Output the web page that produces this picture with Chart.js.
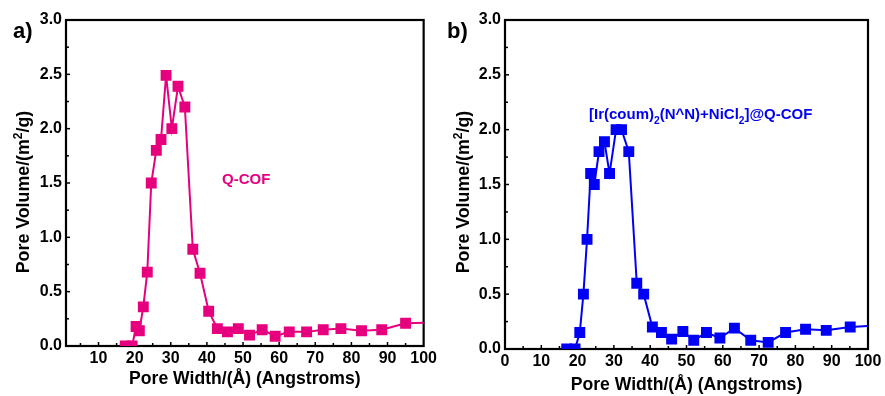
<!DOCTYPE html>
<html>
<head>
<meta charset="utf-8">
<script src="https://cdn.jsdelivr.net/npm/chart.js@4.4.1/dist/chart.umd.min.js"></script>
<style>
  body { margin: 0; background: #fff; }
  #wrap { position: relative; width: 885px; height: 396px; }
  canvas { position: absolute; top: 0; }
</style>
</head>
<body>
<div id="wrap">
  <canvas id="chartA" width="440" height="396" style="left:0"></canvas>
  <canvas id="chartB" width="445" height="396" style="left:440px"></canvas>
</div>
<script>
// panel a) Q-COF
var widthA  = [17.4, 19.3, 20.4, 21.3, 22.4, 23.5, 24.6, 26.0, 27.3, 28.7, 30.3, 32.0, 33.9, 36.1, 38.1,
               40.5, 42.9, 45.7, 48.7, 51.8, 55.3, 58.9, 62.8, 67.6, 72.2, 77.1, 82.8, 88.4, 95.0, 102];
var volumeA = [0, 0, 0.18, 0.14, 0.36, 0.68, 1.50, 1.80, 1.90, 2.49, 2.00, 2.39, 2.20, 0.89, 0.67,
               0.32, 0.16, 0.13, 0.16, 0.10, 0.15, 0.09, 0.13, 0.13, 0.15, 0.16, 0.14, 0.15, 0.21, 0.215];

// panel b) [Ir(coum)2(N^N)+NiCl2]@Q-COF
var widthB  = [17.0, 19.3, 20.6, 21.6, 22.6, 23.6, 24.6, 25.9, 27.4, 28.8, 30.6, 32.1, 34.1, 36.3, 38.2,
               40.6, 43.1, 45.9, 49.0, 52.0, 55.5, 59.2, 63.2, 67.7, 72.5, 77.3, 82.8, 88.5, 95.1, 102];
var volumeB = [0, 0, 0.15, 0.50, 1.00, 1.60, 1.50, 1.80, 1.89, 1.60, 2.00, 2.00, 1.80, 0.60, 0.50,
               0.20, 0.15, 0.09, 0.16, 0.08, 0.15, 0.10, 0.19, 0.08, 0.06, 0.15, 0.18, 0.17, 0.20, 0.215];

// tick labels
var xTicksA = [10, 20, 30, 40, 50, 60, 70, 80, 90, 100];
var xTicksB = [0, 10, 20, 30, 40, 50, 60, 70, 80, 90, 100];
var yTicks  = [0, 0.5, 1.0, 1.5, 2.0, 2.5, 3.0];

var PINK = '#e6007e';
var BLUE = '#0000f5';
var FONT = "'Liberation Sans', Arial, sans-serif";

Chart.defaults.font.family = FONT;
Chart.defaults.font.weight = 'bold';
Chart.defaults.color = '#000';

function toPoints(xs, ys) {
  return xs.map(function (x, i) { return { x: x, y: ys[i] }; });
}

// draw text made of pieces, some raised / lowered
function richText(ctx, parts, size, x, y, align) {
  var total = 0;
  parts.forEach(function (p) {
    ctx.font = 'bold ' + (p.s ? size * 0.68 : size) + 'px ' + FONT;
    p.w = ctx.measureText(p.t).width;
    total += p.w;
  });
  var cx = align === 'center' ? x - total / 2 : x;
  parts.forEach(function (p) {
    ctx.font = 'bold ' + (p.s ? size * 0.68 : size) + 'px ' + FONT;
    ctx.fillText(p.t, cx, y + (p.s || 0) * size);
    cx += p.w;
  });
}

// frame + inward ticks (before the data so the squares sit on the axis)
var framePlugin = {
  id: 'frame',
  beforeDatasetsDraw: function (chart) {
    var ctx = chart.ctx, a = chart.chartArea;
    var xs = chart.scales.x, ys = chart.scales.y;
    ctx.save();
    ctx.strokeStyle = '#000';
    ctx.lineWidth = 1.5;
    var v, px;
    for (v = 5; v < 100; v += 5) {
      if (v < xs.min) continue;
      px = xs.getPixelForValue(v);
      ctx.beginPath();
      ctx.moveTo(px, a.bottom);
      ctx.lineTo(px, a.bottom - (v % 10 === 0 ? 4 : 3));
      ctx.stroke();
    }
    for (v = 0.25; v < 3; v += 0.25) {
      px = ys.getPixelForValue(v);
      ctx.beginPath();
      ctx.moveTo(a.left, px);
      ctx.lineTo(a.left + (Math.round(v * 4) % 2 === 0 ? 4 : 3), px);
      ctx.stroke();
    }
    ctx.lineWidth = 2.2;
    ctx.strokeRect(a.left, a.top, a.right - a.left, a.bottom - a.top);
    ctx.restore();
  },
  afterDraw: function (chart, args, opts) {
    var ctx = chart.ctx;
    ctx.save();
    ctx.textBaseline = 'alphabetic';
    // panel letter
    ctx.fillStyle = '#000';
    ctx.font = 'bold 22px ' + FONT;
    ctx.textAlign = 'left';
    ctx.fillText(opts.letter, opts.letterX, 38);
    // y title with superscript
    ctx.translate(29, 192);
    ctx.rotate(-Math.PI / 2);
    richText(ctx, [{ t: 'Pore Volume/(m' }, { t: '2', s: -0.42 }, { t: '/g)' }], 17.8, 0, 0, 'center');
    ctx.restore();
    // sample label
    ctx.save();
    ctx.fillStyle = opts.color;
    richText(ctx, opts.label, 15, opts.labelX, opts.labelY, 'left');
    ctx.restore();
  }
};

function makeChart(id, xs, ys, color, xTicks, xMin, size, frameOpts) {
  return new Chart(id, {
    type: 'scatter',
    data: {
      datasets: [{
        data: toPoints(xs, ys),
        showLine: true,
        borderColor: color,
        backgroundColor: color,
        borderWidth: 2,
        pointStyle: 'rect',
        pointRadius: 6.3,
        pointHoverRadius: 6.3,
        tension: 0
      }]
    },
    plugins: [framePlugin],
    options: {
      responsive: false,
      animation: false,
      devicePixelRatio: 1,
      layout: { padding: { left: 0, right: size.right, top: 20, bottom: 0 } },
      plugins: {
        legend: { display: false },
        tooltip: { enabled: false },
        frame: frameOpts
      },
      scales: {
        x: {
          type: 'linear',
          min: xMin,
          max: 100,
          grid: { display: false, drawTicks: false },
          border: { display: false },
          afterBuildTicks: function (scale) {
            scale.ticks = xTicks.map(function (v) { return { value: v }; });
          },
          afterFit: function (scale) { scale.height = size.xh; },
          ticks: { autoSkip: false, maxRotation: 0, padding: 3, font: { size: 16, weight: 'bold' } },
          title: {
            display: true,
            text: 'Pore Width/(\u00c5) (Angstroms)',
            font: { size: 17.6, weight: 'bold' },
            padding: { top: 0, bottom: size.tb }
          }
        },
        y: {
          type: 'linear',
          min: 0,
          max: 3,
          grid: { display: false, drawTicks: false },
          border: { display: false },
          afterBuildTicks: function (scale) {
            scale.ticks = yTicks.map(function (v) { return { value: v }; });
          },
          afterFit: function (scale) { scale.width = size.yw; },
          ticks: {
            padding: 4,
            font: { size: 16, weight: 'bold' },
            callback: function (v) { return v.toFixed(1); }
          }
        }
      }
    }
  });
}

makeChart('chartA', widthA, volumeA, PINK, xTicksA, 1,
  { right: 14, xh: 50, yw: 66, tb: 6 },
  { letter: 'a)', letterX: 13, color: PINK, labelX: 222, labelY: 184,
    label: [{ t: 'Q-COF' }] });

makeChart('chartB', widthB, volumeB, BLUE, xTicksB, 0,
  { right: 17, xh: 47, yw: 65, tb: 0 },
  { letter: 'b)', letterX: 7, color: BLUE, labelX: 149, labelY: 119,
    label: [{ t: '[Ir(coum)' }, { t: '2', s: 0.3 }, { t: '(N^N)+NiCl' }, { t: '2', s: 0.3 }, { t: ']@Q-COF' }] });
</script>
</body>
</html>
